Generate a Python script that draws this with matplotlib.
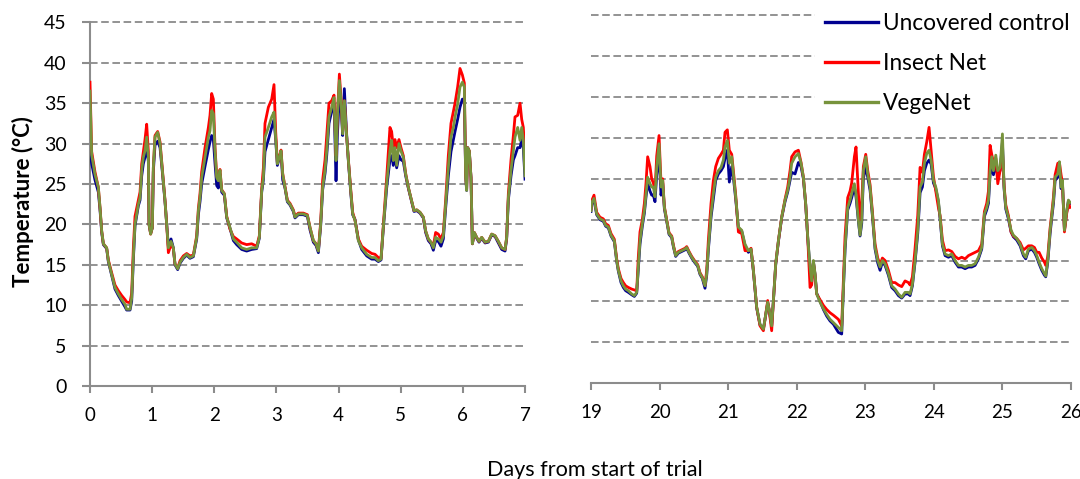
import matplotlib
matplotlib.use("Agg")
import matplotlib.pyplot as plt
from matplotlib.lines import Line2D

# ---- Days 0-7 of the trial -------------------------------------------------
days_a = [0.000, 0.027, 0.080, 0.134, 0.161, 0.188, 0.215, 0.268, 0.295, 0.349,
          0.402, 0.456, 0.510, 0.563, 0.590, 0.644, 0.671, 0.697, 0.724, 0.778,
          0.805, 0.832, 0.858, 0.885, 0.912, 0.939, 0.950, 0.976, 1.003, 1.019,
          1.046, 1.089, 1.127, 1.164, 1.207, 1.234, 1.261, 1.304, 1.341, 1.368,
          1.411, 1.449, 1.502, 1.556, 1.609, 1.663, 1.717, 1.744, 1.770, 1.797,
          1.851, 1.905, 1.931, 1.958, 1.985, 2.012, 2.039, 2.065, 2.092, 2.119,
          2.162, 2.200, 2.253, 2.307, 2.360, 2.441, 2.521, 2.602, 2.682, 2.725,
          2.763, 2.790, 2.816, 2.870, 2.924, 2.961, 2.988, 3.015, 3.047, 3.074,
          3.101, 3.138, 3.176, 3.219, 3.272, 3.299, 3.353, 3.433, 3.498, 3.541,
          3.594, 3.637, 3.675, 3.712, 3.744, 3.782, 3.809, 3.846, 3.889, 3.927,
          3.959, 3.981, 4.013, 4.040, 4.066, 4.093, 4.131, 4.158, 4.195, 4.227,
          4.265, 4.318, 4.372, 4.453, 4.533, 4.586, 4.640, 4.683, 4.720, 4.774,
          4.827, 4.854, 4.881, 4.908, 4.935, 4.972, 5.004, 5.042, 5.080, 5.122,
          5.176, 5.214, 5.257, 5.310, 5.364, 5.401, 5.444, 5.487, 5.525, 5.562,
          5.605, 5.648, 5.686, 5.723, 5.766, 5.809, 5.847, 5.874, 5.916, 5.954,
          5.992, 6.024, 6.045, 6.061, 6.077, 6.104, 6.131, 6.153, 6.185, 6.222,
          6.260, 6.303, 6.357, 6.410, 6.464, 6.518, 6.571, 6.625, 6.679, 6.705,
          6.732, 6.775, 6.813, 6.839, 6.882, 6.920, 6.947, 6.973, 7.000]

vegenet_a = [36.5, 28.6, 26.2, 24.6, 22.1, 19.2, 17.6, 17.1, 15.5, 13.8,
             12.2, 11.4, 10.7, 10.1, 9.5, 9.5, 10.9, 15.9, 20.0, 22.5,
             23.3, 26.7, 28.3, 29.1, 30.8, 28.3, 20.0, 18.8, 19.6, 27.0,
             30.8, 31.4, 30.0, 26.7, 22.9, 20.0, 17.1, 17.9, 17.1, 15.1,
             14.5, 15.3, 15.9, 16.3, 15.9, 16.1, 18.4, 21.7, 23.3, 25.8,
             28.3, 30.8, 31.6, 34.1, 33.7, 29.1, 25.8, 25.4, 26.7, 24.2,
             23.8, 20.9, 19.6, 18.2, 17.8, 17.1, 16.9, 17.1, 17.1, 18.4,
             24.2, 25.8, 30.8, 32.0, 33.3, 33.9, 30.8, 27.5, 28.3, 29.1,
             26.2, 24.6, 22.9, 22.5, 21.7, 20.9, 21.3, 21.3, 21.1, 19.6,
             18.0, 17.6, 16.7, 20.0, 24.6, 26.7, 29.1, 33.3, 34.5, 35.7,
             27.9, 33.3, 37.8, 35.3, 31.2, 35.3, 30.8, 27.9, 24.2, 21.3,
             20.5, 18.0, 17.1, 16.3, 15.9, 15.9, 15.5, 15.7, 19.6, 25.0,
             29.1, 30.4, 27.9, 29.5, 27.3, 30.0, 29.1, 28.3, 26.2, 24.6,
             22.9, 21.7, 21.8, 21.5, 20.9, 19.2, 18.2, 17.8, 17.1, 18.4,
             18.2, 17.8, 18.6, 22.5, 27.0, 30.8, 32.0, 33.3, 34.9, 37.0,
             37.6, 37.0, 25.8, 24.2, 29.5, 29.1, 25.8, 17.6, 19.0, 18.4,
             17.9, 18.4, 17.8, 17.9, 18.8, 18.6, 17.9, 17.1, 16.9, 18.4,
             23.3, 26.7, 29.1, 30.8, 32.0, 30.4, 32.0, 30.4, 26.0]

insect_a = [37.6, 29.0, 26.5, 24.6, 22.1, 19.2, 17.6, 17.1, 15.6, 14.0,
            12.5, 11.8, 11.2, 10.7, 10.4, 10.3, 11.5, 17.0, 21.0, 23.0,
            24.0, 27.5, 29.0, 30.5, 32.4, 29.0, 20.0, 18.8, 19.6, 27.0,
            31.0, 31.5, 30.2, 26.8, 23.0, 20.0, 16.5, 17.5, 17.0, 15.1,
            14.6, 15.5, 16.1, 16.4, 16.1, 16.2, 18.6, 22.0, 23.8, 26.5,
            29.5, 32.0, 33.5, 36.2, 35.5, 29.5, 26.0, 25.6, 26.8, 24.3,
            23.8, 21.0, 19.4, 18.5, 18.2, 17.7, 17.5, 17.6, 17.3, 18.6,
            24.5, 27.0, 32.5, 34.5, 35.5, 37.3, 31.5, 27.6, 28.4, 29.2,
            26.3, 24.7, 23.0, 22.6, 21.8, 21.0, 21.4, 21.4, 21.2, 19.6,
            18.0, 17.6, 16.8, 20.3, 25.5, 28.0, 31.0, 35.0, 35.3, 36.0,
            28.5, 33.5, 38.6, 35.5, 31.5, 35.3, 30.8, 28.0, 24.4, 21.5,
            20.5, 18.2, 17.3, 16.8, 16.4, 16.3, 15.9, 15.8, 19.8, 25.8,
            32.0, 31.5, 29.5, 30.5, 29.5, 30.5, 29.5, 28.5, 26.3, 24.6,
            22.9, 21.7, 21.8, 21.5, 20.9, 19.2, 18.2, 17.8, 17.3, 19.0,
            18.8, 18.2, 19.0, 23.0, 28.5, 32.5, 34.0, 35.0, 37.0, 39.3,
            38.5, 37.5, 26.0, 24.4, 29.5, 29.1, 25.8, 17.6, 19.0, 18.4,
            17.9, 18.4, 17.8, 17.9, 18.8, 18.6, 17.9, 17.1, 16.9, 18.4,
            23.8, 28.0, 31.0, 33.3, 33.5, 35.0, 33.0, 32.0, 28.5]

control_a = [29.0, 27.5, 25.5, 24.0, 21.8, 19.0, 17.5, 17.0, 15.4, 13.7,
             12.0, 11.2, 10.5, 9.8, 9.4, 9.4, 10.5, 15.5, 19.8, 22.3,
             23.0, 26.0, 27.5, 28.3, 29.8, 27.8, 20.0, 18.9, 19.6, 26.5,
             29.8, 30.3, 29.5, 26.5, 22.8, 20.0, 17.3, 18.2, 17.1, 15.0,
             14.4, 15.2, 15.8, 16.2, 15.8, 16.0, 18.2, 21.2, 22.8, 25.0,
             27.2, 29.3, 30.2, 31.0, 30.5, 27.5, 24.8, 24.5, 26.2, 24.0,
             23.6, 20.8, 19.5, 18.0, 17.5, 16.9, 16.7, 16.9, 17.0, 18.3,
             24.0, 25.5, 29.0, 30.5, 32.0, 33.0, 30.5, 27.3, 28.2, 29.0,
             25.5, 24.5, 22.8, 22.4, 21.6, 20.8, 21.2, 21.2, 21.0, 19.3,
             17.8, 17.4, 16.5, 19.8, 24.3, 26.3, 28.5, 32.5, 34.0, 35.0,
             25.4, 31.0, 36.0, 34.5, 31.0, 36.8, 31.0, 27.8, 24.0, 21.2,
             20.6, 18.1, 16.9, 16.1, 15.7, 15.7, 15.4, 15.6, 19.5, 24.5,
             28.0, 28.5, 27.3, 28.5, 27.0, 28.5, 28.0, 27.8, 26.0, 24.5,
             22.8, 21.6, 21.7, 21.4, 20.8, 19.0, 18.0, 17.6, 16.8, 18.0,
             17.9, 17.3, 18.2, 22.0, 26.0, 29.0, 30.5, 31.5, 33.0, 34.5,
             35.5, 35.5, 26.0, 24.2, 29.5, 29.0, 25.8, 17.6, 18.9, 18.3,
             17.8, 18.3, 17.7, 17.8, 18.7, 18.5, 17.7, 16.9, 16.7, 18.2,
             23.0, 26.0, 28.0, 28.5, 29.5, 29.5, 30.5, 29.5, 25.6]

# ---- Days 19-26 of the trial -----------------------------------------------
days_b = [19.000, 19.010, 19.044, 19.083, 19.131, 19.180, 19.214, 19.253, 19.292, 19.341,
          19.375, 19.399, 19.438, 19.472, 19.506, 19.545, 19.594, 19.633, 19.667, 19.691,
          19.715, 19.749, 19.779, 19.803, 19.827, 19.861, 19.886, 19.910, 19.934, 19.959,
          19.993, 20.022, 20.046, 20.071, 20.105, 20.139, 20.178, 20.202, 20.236, 20.275,
          20.324, 20.372, 20.397, 20.431, 20.470, 20.518, 20.557, 20.591, 20.625, 20.664,
          20.689, 20.713, 20.752, 20.786, 20.820, 20.859, 20.898, 20.932, 20.956, 20.990,
          21.019, 21.054, 21.078, 21.112, 21.151, 21.200, 21.248, 21.297, 21.336, 21.370,
          21.418, 21.467, 21.516, 21.550, 21.579, 21.603, 21.637, 21.662, 21.696, 21.735,
          21.783, 21.832, 21.871, 21.905, 21.929, 21.978, 22.027, 22.066, 22.100, 22.134,
          22.163, 22.197, 22.221, 22.246, 22.270, 22.294, 22.343, 22.392, 22.440, 22.489,
          22.538, 22.610, 22.659, 22.684, 22.708, 22.747, 22.781, 22.805, 22.844, 22.868,
          22.903, 22.927, 22.951, 22.975, 23.010, 23.039, 23.073, 23.107, 23.146, 23.185,
          23.219, 23.253, 23.292, 23.341, 23.389, 23.438, 23.487, 23.535, 23.584, 23.632,
          23.657, 23.691, 23.730, 23.769, 23.803, 23.837, 23.866, 23.900, 23.934, 23.964,
          23.998, 24.032, 24.070, 24.095, 24.129, 24.168, 24.217, 24.265, 24.314, 24.363,
          24.411, 24.460, 24.509, 24.557, 24.606, 24.655, 24.703, 24.742, 24.776, 24.801,
          24.825, 24.849, 24.874, 24.908, 24.937, 24.971, 25.005, 25.029, 25.054, 25.092,
          25.131, 25.165, 25.214, 25.263, 25.311, 25.345, 25.384, 25.433, 25.472, 25.506,
          25.540, 25.579, 25.618, 25.637, 25.667, 25.701, 25.725, 25.750, 25.774, 25.813,
          25.837, 25.861, 25.881, 25.910, 25.944, 25.968, 25.993]

vegenet_b = [21.1, 22.1, 22.6, 20.7, 20.1, 19.9, 19.3, 19.1, 18.1, 17.4,
             15.0, 13.8, 12.5, 11.9, 11.5, 11.3, 10.9, 10.7, 11.1, 14.2,
             17.4, 19.5, 21.1, 23.2, 25.2, 24.4, 24.0, 24.0, 22.8, 26.4,
             29.3, 24.0, 24.8, 21.5, 19.9, 18.3, 17.9, 16.8, 15.6, 16.0,
             16.2, 16.4, 16.6, 16.0, 15.4, 14.8, 14.4, 13.4, 12.9, 11.9,
             13.4, 16.6, 20.7, 23.2, 25.2, 26.0, 26.4, 27.3, 28.9, 29.7,
             26.9, 27.7, 25.6, 22.8, 19.1, 18.7, 17.0, 16.2, 16.4, 13.8,
             9.3, 7.2, 6.6, 8.4, 9.9, 8.9, 7.0, 10.1, 14.6, 17.4,
             20.3, 22.4, 23.6, 25.2, 26.9, 27.7, 28.1, 26.9, 25.2, 21.9,
             17.9, 14.2, 12.5, 15.0, 13.4, 10.9, 9.9, 9.1, 8.4, 7.8,
             7.4, 6.8, 6.4, 11.7, 16.6, 21.5, 22.4, 23.2, 24.4, 23.2,
             19.9, 18.1, 19.9, 26.0, 27.7, 25.6, 24.0, 20.7, 16.6, 15.0,
             14.2, 15.0, 14.6, 13.4, 11.9, 11.5, 10.9, 10.5, 11.1, 11.1,
             10.9, 12.1, 15.0, 18.7, 24.0, 24.6, 26.9, 28.1, 28.5, 27.3,
             24.8, 24.0, 22.4, 20.3, 17.0, 15.8, 15.6, 15.8, 15.0, 14.4,
             14.4, 14.2, 14.4, 14.4, 14.6, 15.4, 16.6, 20.7, 21.5, 22.4,
             26.0, 27.7, 26.0, 27.9, 26.0, 26.4, 30.5, 24.0, 21.5, 20.3,
             18.7, 18.1, 17.7, 17.0, 15.8, 15.4, 16.4, 16.6, 16.2, 15.6,
             14.8, 14.0, 13.4, 13.1, 15.0, 18.7, 20.5, 22.4, 25.2, 25.6,
             27.1, 24.0, 24.8, 18.7, 21.1, 22.4, 22.1]

insect_b = [21.3, 22.3, 23.0, 20.9, 20.3, 20.1, 19.5, 19.3, 18.3, 17.6,
            15.2, 14.0, 12.8, 12.3, 11.9, 11.7, 11.5, 11.4, 11.3, 15.5,
            18.5, 20.0, 22.0, 24.5, 27.7, 26.5, 25.0, 24.5, 23.5, 27.8,
            30.3, 24.5, 25.0, 21.6, 20.0, 18.4, 18.0, 16.9, 15.7, 16.1,
            16.3, 16.5, 16.7, 16.1, 15.5, 14.9, 14.5, 13.5, 13.0, 12.0,
            13.8, 17.5, 22.0, 24.8, 26.5, 27.5, 28.0, 28.5, 30.7, 31.0,
            28.5, 28.0, 26.0, 23.0, 18.5, 18.3, 16.2, 16.2, 16.5, 13.8,
            9.3, 7.0, 6.4, 8.4, 10.1, 8.7, 6.4, 10.0, 14.6, 17.4,
            20.3, 22.5, 24.0, 26.0, 27.7, 28.3, 28.5, 27.0, 25.2, 21.9,
            17.8, 11.7, 12.0, 14.8, 13.2, 10.9, 10.2, 9.5, 9.0, 8.6,
            8.3, 7.8, 7.0, 12.5, 18.0, 22.7, 23.5, 24.5, 27.7, 28.9,
            23.2, 20.0, 22.0, 26.5, 28.0, 26.0, 24.3, 21.0, 17.0, 15.3,
            14.5, 15.3, 15.0, 13.8, 12.3, 12.3, 12.0, 11.8, 12.5, 12.3,
            12.0, 13.0, 16.5, 20.5, 26.4, 25.8, 28.0, 29.5, 31.3, 28.5,
            25.3, 23.5, 21.5, 20.5, 17.5, 16.2, 16.3, 16.1, 15.5, 15.2,
            15.4, 15.2, 15.6, 15.8, 16.0, 16.2, 17.0, 21.0, 22.0, 23.5,
            29.1, 28.0, 27.0, 27.5, 24.4, 26.0, 28.5, 24.2, 21.8, 20.5,
            18.5, 18.0, 17.7, 17.2, 16.3, 16.5, 16.8, 16.8, 16.6, 16.0,
            16.0, 15.3, 14.8, 14.4, 15.5, 19.0, 20.8, 22.8, 25.5, 26.9,
            27.0, 25.5, 24.5, 18.5, 20.8, 22.0, 21.5]

control_b = [21.0, 21.9, 22.4, 20.6, 20.0, 19.8, 19.2, 19.0, 18.0, 17.3,
             14.9, 13.7, 12.3, 11.7, 11.3, 11.1, 10.8, 10.6, 11.0, 14.0,
             17.0, 19.2, 20.8, 22.8, 24.5, 23.5, 23.0, 23.0, 22.2, 25.5,
             28.0, 23.0, 24.5, 21.3, 19.8, 18.2, 17.8, 16.7, 15.5, 15.9,
             16.1, 16.3, 16.5, 15.9, 15.3, 14.7, 14.3, 13.3, 12.8, 11.6,
             13.2, 16.3, 20.3, 22.6, 24.8, 25.6, 26.0, 26.5, 27.5, 28.5,
             24.6, 26.5, 25.2, 22.5, 19.0, 18.6, 16.8, 16.0, 16.3, 13.7,
             9.2, 7.1, 6.6, 8.3, 9.8, 8.8, 7.0, 10.0, 14.5, 17.3,
             20.2, 22.2, 23.4, 24.8, 25.8, 25.6, 27.0, 26.5, 25.0, 21.8,
             17.8, 14.0, 12.4, 14.9, 13.3, 11.0, 10.0, 9.0, 8.2, 7.6,
             7.2, 6.2, 6.0, 11.5, 16.3, 21.2, 22.0, 22.7, 24.0, 22.8,
             19.8, 18.0, 19.5, 25.0, 26.5, 25.2, 23.6, 20.5, 16.4, 14.7,
             13.8, 14.8, 14.4, 13.2, 11.7, 11.3, 10.7, 10.4, 10.9, 10.9,
             10.7, 11.9, 14.8, 18.3, 23.3, 24.0, 26.0, 26.9, 27.3, 26.8,
             24.5, 23.8, 22.2, 20.1, 16.8, 15.6, 15.4, 15.6, 14.8, 14.2,
             14.2, 14.0, 14.2, 14.2, 14.4, 15.2, 16.4, 20.4, 21.2, 22.0,
             25.5, 26.5, 25.5, 26.5, 25.5, 26.0, 29.5, 23.8, 21.3, 20.1,
             18.5, 17.9, 17.5, 16.8, 15.6, 15.2, 16.2, 16.4, 16.0, 15.4,
             14.6, 13.8, 13.2, 13.0, 14.8, 18.3, 20.2, 22.0, 24.8, 25.2,
             26.5, 23.8, 24.5, 18.7, 21.0, 22.3, 22.0]

y_ticks = [0, 5, 10, 15, 20, 25, 30, 35, 40, 45]
x_ticks_a = [0, 1, 2, 3, 4, 5, 6, 7]
x_ticks_b = [19, 20, 21, 22, 23, 24, 25, 26]
series_names = ["Uncovered control", "Insect Net", "VegeNet"]
series_colors = ["#000090", "#FF0000", "#77933C"]

FONT = ["Lato", "DejaVu Sans"]
plt.rcParams["font.family"] = FONT

AX_GREY = "#8C8C8C"
GRID_GREY = "#8A8A8A"
LINE_W = 2.0

W, H = 1080, 479
fig = plt.figure(figsize=(W / 100, H / 100), dpi=100)
fig.patch.set_facecolor("white")


def frac_box(x0, x1, y_top, y_bot):
    return [x0 / W, 1 - y_bot / H, (x1 - x0) / W, (y_bot - y_top) / H]


ax_a = fig.add_axes(frac_box(90, 525, 22.4, 386))
ax_b = fig.add_axes(frac_box(591, 1070.6, 15.5, 383))

panels = [
    (ax_a, days_a, [control_a, insect_a, vegenet_a], x_ticks_a, (0, 7)),
    (ax_b, days_b, [control_b, insect_b, vegenet_b], x_ticks_b, (19, 26)),
]

for ax, t, ys, xt, xl in panels:
    for y, c in zip(ys, series_colors):
        ax.plot(t, y, color=c, lw=LINE_W, solid_joinstyle="round", zorder=3)
    ax.set_xlim(*xl)
    ax.set_ylim(0, 45)
    ax.set_xticks(xt)
    ax.set_yticks(y_ticks)
    for v in y_ticks[1:]:
        ax.axhline(v, color=GRID_GREY, lw=1.3, ls=(0, (4.2, 2.0)), zorder=1,
                   clip_on=False)
    for s in ("top", "right"):
        ax.spines[s].set_visible(False)
    ax.spines["bottom"].set_color(AX_GREY)
    ax.spines["bottom"].set_linewidth(1.5)
    ax.tick_params(axis="x", direction="out", length=4.8, width=1.5,
                   color=AX_GREY, labelsize=13.5, pad=10.5, labelcolor="black")
    ax.set_facecolor("none")

ax_a.spines["left"].set_color(AX_GREY)
ax_a.spines["left"].set_linewidth(1.5)
ax_a.tick_params(axis="y", direction="out", length=5.8, width=1.5,
                 color=AX_GREY, labelsize=14, pad=11, labelcolor="black")

ax_b.spines["left"].set_visible(False)
ax_b.tick_params(axis="y", left=False, labelleft=False)

fig.text(23 / W, 1 - 202 / H, "Temperature (°C)", rotation=90, ha="center",
         va="center", fontsize=16, fontweight="bold")
fig.text(595 / W, 1 - 476 / H, "Days from start of trial", ha="center",
         va="baseline", fontsize=15.6)

handles = [Line2D([0], [0], color=c, lw=2.4) for c in series_colors]
leg = fig.legend(handles, series_names, loc="upper left",
                 bbox_to_anchor=(815 / W, 1 - 3 / H), bbox_transform=fig.transFigure,
                 fontsize=16.3, frameon=True, fancybox=False, framealpha=1,
                 facecolor="white", edgecolor="none", handlelength=2.35,
                 handletextpad=0.22, labelspacing=0.83, borderpad=0.45,
                 borderaxespad=0)
leg.set_zorder(10)

fig.savefig("out.png", dpi=100, facecolor="white")
